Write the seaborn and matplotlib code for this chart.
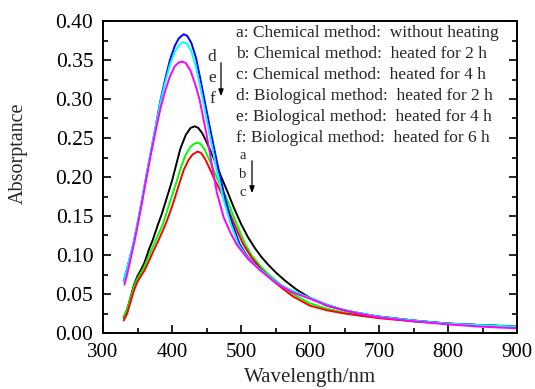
import pandas as pd
import matplotlib
matplotlib.use("Agg")
import matplotlib.pyplot as plt
import seaborn as sns
from matplotlib.patches import FancyArrowPatch
from matplotlib.ticker import MultipleLocator

# a: chemical, without heating
wl_a = [330, 335, 340, 345, 350, 355, 360, 367, 372, 380, 385, 392, 400, 405, 412, 420, 427, 433,
        438, 444, 450, 460, 470, 480, 490, 500, 510, 520, 530, 540, 550, 564, 580, 600, 625, 650,
        675, 700, 750, 800, 850, 900]
abs_a = [0.020, 0.030, 0.046, 0.062, 0.073, 0.081, 0.090, 0.108, 0.119, 0.140, 0.152, 0.172, 0.195,
         0.212, 0.236, 0.254, 0.263, 0.265, 0.263, 0.256, 0.245, 0.225, 0.203, 0.182, 0.160, 0.140,
         0.123, 0.109, 0.097, 0.087, 0.078, 0.067, 0.056, 0.045, 0.035, 0.029, 0.024, 0.021, 0.016,
         0.012, 0.010, 0.008]

# b: chemical, heated 2 h
wl_b = [330, 335, 340, 345, 350, 355, 360, 367, 372, 380, 387, 392, 400, 407, 414, 420, 427, 433,
        437, 442, 448, 455, 462, 470, 478, 485, 495, 506, 515, 528, 540, 556, 575, 600, 625, 650,
        675, 700, 750, 800, 850, 900]
abs_b = [0.021, 0.030, 0.045, 0.060, 0.070, 0.077, 0.085, 0.100, 0.110, 0.126, 0.140, 0.154, 0.176,
         0.195, 0.215, 0.229, 0.239, 0.243, 0.244, 0.242, 0.234, 0.220, 0.205, 0.189, 0.175, 0.159,
         0.137, 0.114, 0.100, 0.086, 0.075, 0.063, 0.050, 0.038, 0.031, 0.026, 0.022, 0.020, 0.015,
         0.012, 0.010, 0.009]

# c: chemical, heated 4 h
wl_c = [330, 335, 340, 345, 350, 355, 360, 367, 372, 380, 390, 396, 403, 410, 417, 424, 430, 437,
        442, 448, 455, 462, 468, 475, 483, 493, 503, 515, 528, 540, 556, 575, 600, 625, 650, 675,
        700, 750, 800, 850, 900]
abs_c = [0.016, 0.025, 0.040, 0.055, 0.066, 0.073, 0.080, 0.093, 0.103, 0.118, 0.138, 0.152, 0.170,
         0.190, 0.209, 0.222, 0.229, 0.2325, 0.231, 0.223, 0.210, 0.196, 0.186, 0.173, 0.155, 0.134,
         0.114, 0.097, 0.083, 0.072, 0.060, 0.047, 0.035, 0.029, 0.025, 0.022, 0.019, 0.015, 0.012,
         0.010, 0.008]

# d: biological, heated 2 h
wl_d = [330, 335, 340, 345, 350, 356, 363, 370, 377, 383, 390, 397, 404, 410, 417, 422, 428, 435,
        441, 447, 455, 465, 475, 485, 498, 510, 527, 545, 556, 575, 600, 625, 650, 675, 700, 750,
        800, 850, 900]
abs_d = [0.067, 0.083, 0.100, 0.118, 0.140, 0.168, 0.202, 0.235, 0.268, 0.297, 0.325, 0.350, 0.368,
         0.378, 0.383, 0.381, 0.372, 0.352, 0.326, 0.299, 0.263, 0.220, 0.180, 0.146, 0.114, 0.097,
         0.082, 0.069, 0.062, 0.053, 0.045, 0.036, 0.029, 0.025, 0.021, 0.016, 0.012, 0.010, 0.008]

# e: biological, heated 4 h
wl_e = [330, 335, 340, 345, 350, 356, 363, 370, 377, 383, 390, 397, 404, 410, 416, 422, 428, 435,
        441, 447, 455, 465, 475, 485, 496, 510, 527, 545, 556, 575, 600, 625, 650, 675, 700, 750,
        800, 850, 900]
abs_e = [0.066, 0.083, 0.101, 0.119, 0.141, 0.169, 0.203, 0.236, 0.268, 0.295, 0.321, 0.344, 0.360,
         0.369, 0.373, 0.371, 0.361, 0.340, 0.315, 0.288, 0.252, 0.208, 0.170, 0.140, 0.114, 0.096,
         0.082, 0.069, 0.062, 0.054, 0.045, 0.036, 0.029, 0.025, 0.021, 0.016, 0.012, 0.010, 0.008]

# f: biological, heated 6 h
wl_f = [331, 335, 340, 345, 350, 356, 363, 370, 377, 383, 390, 397, 404, 410, 415, 420, 427, 434,
        440, 450, 458, 465, 475, 485, 494, 510, 527, 545, 556, 575, 600, 625, 650, 675, 700, 750,
        800, 850, 900]
abs_f = [0.062, 0.075, 0.095, 0.115, 0.137, 0.165, 0.199, 0.232, 0.262, 0.287, 0.310, 0.329, 0.342,
         0.347, 0.348, 0.346, 0.336, 0.318, 0.299, 0.255, 0.215, 0.180, 0.148, 0.128, 0.113, 0.095,
         0.081, 0.068, 0.061, 0.052, 0.044, 0.035, 0.029, 0.024, 0.020, 0.015, 0.011, 0.008, 0.006]

samples = ["a", "b", "c", "d", "e", "f"]
colors = ["black", "#00ff00", "red", "blue", "cyan", "magenta"]
legend_lines = [
    "a: Chemical method:  without heating",
    "b: Chemical method:  heated for 2 h",
    "c: Chemical method:  heated for 4 h",
    "d: Biological method:  heated for 2 h",
    "e: Biological method:  heated for 4 h",
    "f: Biological method:  heated for 6 h",
]


def build_frame():
    parts = []
    for s, wl, ab in zip(samples, [wl_a, wl_b, wl_c, wl_d, wl_e, wl_f],
                         [abs_a, abs_b, abs_c, abs_d, abs_e, abs_f]):
        parts.append(pd.DataFrame({"wavelength": wl, "absorptance": ab, "sample": s}))
    return pd.concat(parts, ignore_index=True)


def fig_xy(px, py):
    # pixel position (from top-left) -> figure fraction
    return px / 535, 1 - py / 389


def main():
    df = build_frame()

    sns.set_style("ticks")
    plt.rcParams["font.family"] = ["Liberation Serif", "DejaVu Serif"]

    fig = plt.figure(figsize=(5.35, 3.89), dpi=100)
    ax = fig.add_axes([103 / 535, 56 / 389, 414 / 535, 312 / 389])

    sns.lineplot(data=df, x="wavelength", y="absorptance", hue="sample",
                 palette=dict(zip(samples, colors)), estimator=None, sort=True,
                 linewidth=1.4, legend=False, ax=ax)

    ax.set_xlim(300, 900)
    ax.set_ylim(0, 0.40)
    ax.xaxis.set_major_locator(MultipleLocator(100))
    ax.xaxis.set_minor_locator(MultipleLocator(50))
    ax.yaxis.set_major_locator(MultipleLocator(0.05))
    ax.yaxis.set_minor_locator(MultipleLocator(0.025))
    ax.yaxis.set_major_formatter(plt.FormatStrFormatter("%.2f"))

    ax.tick_params(which="both", direction="in", top=False, right=True,
                   width=1.2, colors="black")
    ax.tick_params(axis="x", pad=7, labelsize=15)
    ax.tick_params(axis="y", pad=7, labelsize=15.5)
    ax.tick_params(which="major", length=6)
    ax.tick_params(which="minor", length=3.5)
    for sp in ax.spines.values():
        sp.set_linewidth(1.4)
        sp.set_color("black")

    ax.set_xlabel("Wavelength/nm", fontsize=15)
    ax.set_ylabel("Absorptance", fontsize=14.5)
    ax.xaxis.set_label_coords(0.5, -0.113)
    ax.yaxis.set_label_coords(-0.181, 0.577)

    # legend text block
    for i, line in enumerate(legend_lines):
        fig.text(*fig_xy(236, 33 + 21.1 * i), line, fontsize=12.5, va="center", ha="left")

    # d -> f arrow
    for i, ch in enumerate(["d", "e", "f"]):
        fig.text(*fig_xy(212, 57 + 21 * i), ch, fontsize=12.5, va="center", ha="center")
    fig.add_artist(FancyArrowPatch(fig_xy(221, 60), fig_xy(221, 99), transform=fig.transFigure,
                                   arrowstyle="-|>,head_length=4,head_width=1.5",
                                   color="black", lw=0.9, mutation_scale=1))

    # a -> c arrow
    for i, ch in enumerate(["a", "b", "c"]):
        fig.text(*fig_xy(243, 155 + 19 * i), ch, fontsize=10.5, va="center", ha="center")
    fig.add_artist(FancyArrowPatch(fig_xy(252, 158), fig_xy(252, 196), transform=fig.transFigure,
                                   arrowstyle="-|>,head_length=4,head_width=1.5",
                                   color="black", lw=0.9, mutation_scale=1))

    fig.savefig("out.png", dpi=100)


if __name__ == "__main__":
    main()
